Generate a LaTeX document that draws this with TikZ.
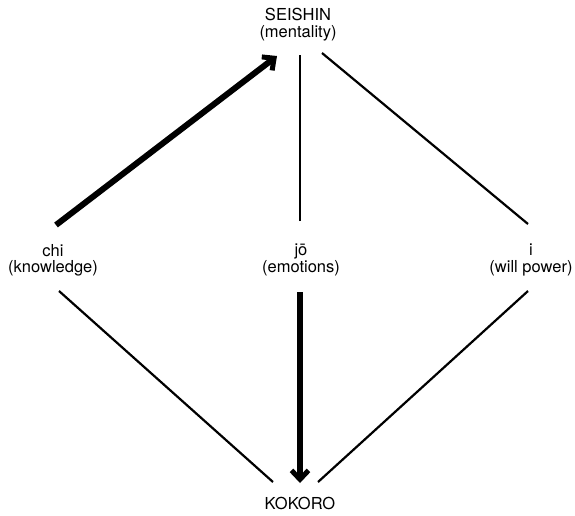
\documentclass[tikz,border=0pt]{standalone}
\usepackage{fontspec}
\setmainfont{TeX Gyre Heros}
\usetikzlibrary{arrows.meta}
\tikzset{
  lbl/.style={align=center, inner sep=0pt, anchor=north,
    font=\fontsize{16.5}{16.5}\selectfont},
  thinline/.style={line width=2.2pt},
  heavy/.style={line width=6pt, line cap=butt,
    -{Straight Barb[length=9pt,width=17pt,line width=5pt]}},
}
\begin{document}
\begin{tikzpicture}[x=1pt,y=-1pt]
  \useasboundingbox (0,0) rectangle (575,515);
  % concepts
  \node[lbl] (seishin) at (298,8)   {SEISHIN\\(mentality)};
  \node[lbl] (chi)     at (53,244)  {chi\\(knowledge)};
  \node[lbl] (jo)      at (301,244) {jō\\(emotions)};
  \node[lbl] (will)    at (531,244) {i\\(will power)};
  \node[lbl] (kokoro)  at (300,497) {KOKORO};
  % line end points around the labels
  \coordinate (chi-up)    at (56,225);
  \coordinate (chi-dn)    at (59,291);
  \coordinate (jo-up)     at (300,221);
  \coordinate (jo-dn)     at (300,292);
  \coordinate (will-up)   at (528,224);
  \coordinate (will-dn)   at (528,291);
  \coordinate (sei-left)  at (277,56);
  \coordinate (sei-mid)   at (300,55);
  \coordinate (sei-right) at (322,53);
  \coordinate (kok-left)  at (273,482);
  \coordinate (kok-mid)   at (300,483);
  \coordinate (kok-right) at (318,482);
  % connectors
  \draw[heavy] (chi-up) -- (sei-left);
  \draw[thinline] (jo-up) -- (sei-mid);
  \draw[thinline] (will-up) -- (sei-right);
  \draw[thinline] (chi-dn) -- (kok-left);
  \draw[heavy] (jo-dn) -- (kok-mid);
  \draw[thinline] (will-dn) -- (kok-right);
\end{tikzpicture}
\end{document}
